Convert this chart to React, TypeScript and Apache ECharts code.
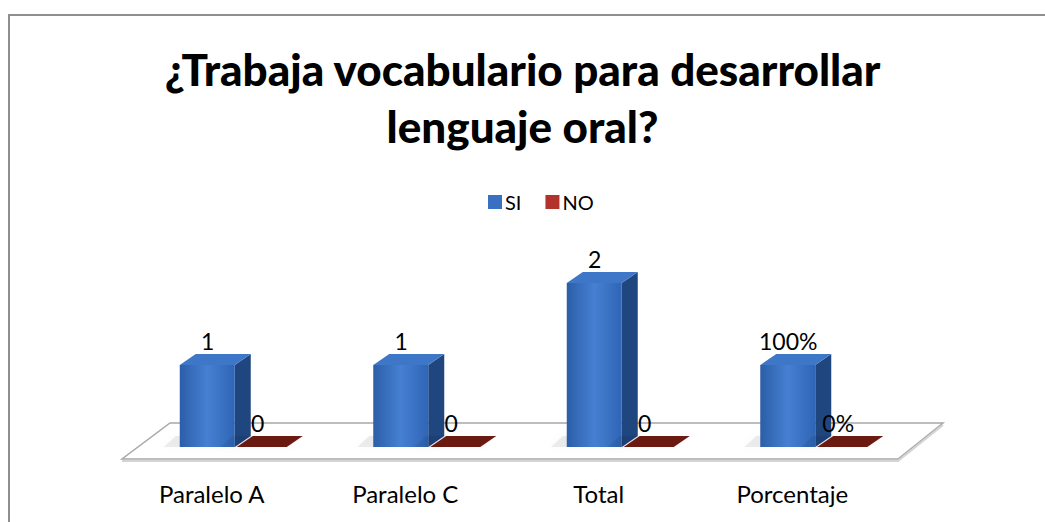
import React, { useEffect, useRef } from "react";
import * as echarts from "echarts";

const categories = ["Paralelo A", "Paralelo C", "Total", "Porcentaje"];
const seriesNames = ["SI", "NO"];
const siValues = [1, 1, 2, 1];
const noValues = [0, 0, 0, 0];
const siLabels = ["1", "1", "2", "100%"];
const noLabels = ["0", "0", "0", "0%"];

const FONT = "Lato";
const DX = 16;
const DY = 11;

function makeRender(offset: number, width: number, kind: "blue" | "red", labels: string[], labelOffset: number) {
  return (params: any, api: any) => {
    const idx = api.value(0);
    const v = api.value(1);
    const top = api.coord([idx, v]);
    const base = api.coord([idx, 0]);
    const left = top[0] + offset;
    const right = left + width;
    const yTop = top[1];
    const yBase = base[1];
    const h = yBase - yTop;
    const children: any[] = [];
    const frontFill =
      kind === "blue"
        ? new echarts.graphic.LinearGradient(0, 0, 1, 0, [
            { offset: 0, color: "#2c5ea8" },
            { offset: 0.5, color: "#4680d2" },
            { offset: 1, color: "#2f65b6" },
          ])
        : "#8a2218";
    const sideFill = kind === "blue" ? "#1f467f" : "#5a130d";
    const topFill = kind === "blue" ? "#3f77c8" : "#6b1a12";
    children.push({
      type: "polygon",
      shape: {
        points: [
          [left - 16, yBase],
          [left - 4, yBase - DY],
          [right + DX, yBase - DY],
          [right, yBase],
        ],
      },
      style: { fill: "rgba(0,0,0,0.07)", shadowBlur: 10, shadowColor: "rgba(0,0,0,0.25)" },
    });
    if (h > 0.5) {
      children.push({
        type: "polygon",
        shape: {
          points: [
            [right, yTop],
            [right + DX, yTop - DY],
            [right + DX, yBase - DY],
            [right, yBase],
          ],
        },
        style: { fill: sideFill },
      });
      children.push({
        type: "rect",
        shape: { x: left, y: yTop, width: width, height: h },
        style: { fill: frontFill },
      });
    }
    children.push({
      type: "polygon",
      shape: {
        points: [
          [left, yTop],
          [left + DX, yTop - DY],
          [right + DX, yTop - DY],
          [right, yTop],
        ],
      },
      style: { fill: topFill },
    });
    children.push({
      type: "text",
      x: top[0] + labelOffset,
      y: yTop - DY - 2,
      style: {
        text: labels[idx],
        fill: "#000",
        fontSize: 23,
        fontFamily: FONT,
        align: "center",
        verticalAlign: "bottom",
      },
    });
    return { type: "group", children };
  };
}

export default function App() {
  const ref = useRef<HTMLDivElement>(null);
  useEffect(() => {
    if (!ref.current) return;
    const chart = echarts.init(ref.current, null, { renderer: "svg" });
    const option: any = {
      animation: false,
      backgroundColor: "#ffffff",
      title: {
        text: "¿Trabaja vocabulario para desarrollar\nlenguaje oral?",
        left: "center",
        top: 35,
        textStyle: {
          fontFamily: FONT,
          fontWeight: 900,
          fontSize: 44,
          lineHeight: 57,
          color: "#000",
        },
      },
      legend: {
        data: seriesNames,
        left: 483,
        top: 187,
        icon: "rect",
        itemWidth: 14,
        itemHeight: 14,
        itemGap: 24,
        textStyle: { fontFamily: FONT, fontSize: 20, color: "#000", padding: [0, 0, 0, -2] },
      },
      grid: { left: 115, right: 156, top: 242, bottom: 75 },
      xAxis: {
        type: "category",
        data: categories,
        axisLine: { show: false },
        axisTick: { show: false },
        axisLabel: { fontFamily: FONT, fontSize: 24, color: "#000", margin: 34 },
      },
      yAxis: {
        type: "value",
        min: 0,
        max: 2.5,
        show: false,
        splitLine: { show: false },
      },
      graphic: [
        {
          type: "rect",
          z: 0,
          shape: { x: 9, y: 15, width: 1200, height: 700 },
          style: { fill: "none", stroke: "#8e8e8e", lineWidth: 2 },
        },
        {
          type: "polygon",
          z: 0,
          shape: {
            points: [
              [170, 423],
              [943, 423],
              [898, 459],
              [122, 459],
            ],
          },
          style: { fill: "#ffffff", stroke: "#a8a8a8", lineWidth: 1.5 },
        },
        {
          type: "polyline",
          z: 0,
          shape: {
            points: [
              [122, 461],
              [898, 461],
              [943, 425],
            ],
          },
          style: { fill: "none", stroke: "#d4d4d4", lineWidth: 2 },
        },
      ],
      series: [
        {
          name: "SI",
          type: "custom",
          itemStyle: { color: "#3a70c2" },
          renderItem: makeRender(-32, 55, "blue", siLabels, -4),
          data: siValues.map((v, i) => [i, v]),
          encode: { x: 0, y: 1 },
          z: 3,
        },
        {
          name: "NO",
          type: "custom",
          itemStyle: { color: "#b3322c" },
          renderItem: makeRender(25, 50, "red", noLabels, 46),
          data: noValues.map((v, i) => [i, v]),
          encode: { x: 0, y: 1 },
          z: 3,
        },
      ],
    };
    chart.setOption(option);
    return () => chart.dispose();
  }, []);
  return (
    <div
      ref={ref}
      style={{ position: "absolute", left: 0, top: 0, width: 1045, height: 522 }}
    />
  );
}
